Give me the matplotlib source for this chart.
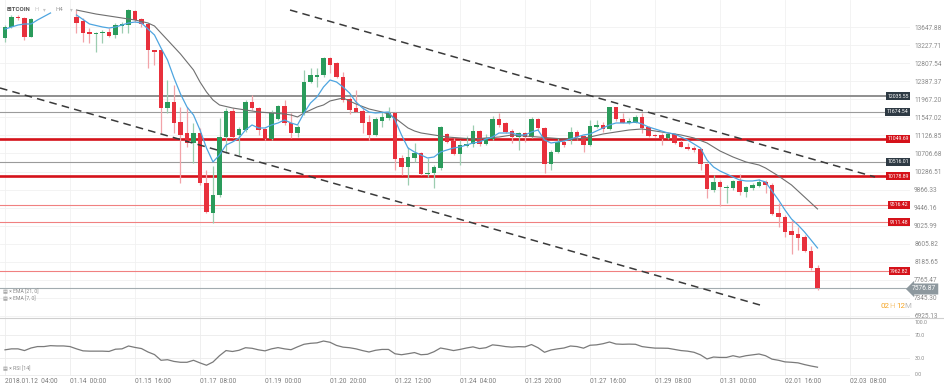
import numpy as np
import matplotlib
matplotlib.use("Agg")
import matplotlib.pyplot as plt
from matplotlib import transforms
from matplotlib.lines import Line2D

nan = float("nan")

# ---------------- data (H4 bars, index 0 = 2018.01.12 04:00) ----------------
opens = [13392, 13648, 13881, 13857, 13415, nan, nan, nan, nan, nan, nan,
         13881, 13788, 13532, 13485, 13508, 13532, 13462, 13671, 13694, 14020,
         13834, 13718, 13113, 13113, 11764, 11903, 11438, 11182, 10950, 11182,
         10019, 9322, 9740, 11089, 11694, 11136, 11252, 11903, 11764, 11275,
         11043, 11508, 11810, 11415, 11182, 11648, 12369, 12485, 12531, 12927,
         12811, 12485, 11973, 11764, 11694, 11438, 11136, 11462, 11531, 11648,
         10601, 10392, 10601, 10717, 10229, 10252, 10368, 11159, 10996, 10694,
         10880, 10927, 11229, 10927, 11043, 11508, 11415, 11229, 11089, 11182,
         11089, 11508, 11299, 10461, 10740, 10973, 11020, 11206, 11113, 10903,
         11322, 11368, 11275, 11787, 11508, 11415, 11415, 11555, 11322, 11136,
         11136, 11066, 11159, 10973, 10857, 10834, 10810, 10461, 9857, 10043,
         9903, 9903, 10066, 9810, 9903, 9950, 10043, 9973, 9322, 9229,
         8903, 8833, 8763, 8438, 8042]
highs = [13694, 13927, 13927, 13881, 13857, nan, nan, nan, nan, nan, nan,
         14043, 13857, 13625, 13532, 13578, 13625, 13741, 13764, 14067, 14043,
         13857, 13741, 13113, 13136, 12415, 12299, 11787, 11787, 11415, 11299,
         10322, 10415, 11531, 11764, 11764, 11322, 11950, 12066, 11787, 11299,
         11717, 11833, 11950, 11648, 11368, 12648, 12694, 12694, 12950, 12950,
         12834, 12601, 12020, 12183, 11787, 11601, 11555, 11671, 11787, 11671,
         10671, 10857, 10950, 10740, 10601, 10438, 11345, 11182, 11066, 11020,
         11113, 11368, 11252, 11159, 11578, 11648, 11438, 11275, 11206, 11206,
         11555, 11531, 11322, 10787, 11066, 11020, 11322, 11252, 11136, 11485,
         11485, 11438, 11787, 11787, 11648, 11531, 11601, 11648, 11345, 11159,
         11182, 11182, 11182, 11020, 10950, 10880, 10834, 10485, 10205, 10089,
         9973, 10089, 10229, 9950, 10019, 10112, 10089, 10019, 9554, 9275,
         9159, 8996, 8810, 8554, 8112]
lows = [13299, 13625, 13811, 13346, 13415, nan, nan, nan, nan, nan, nan,
        13508, 13299, 13276, 13066, 13276, 13415, 13392, 13508, 13508, 13764,
        13648, 12694, 12764, 11182, 11648, 11182, 10019, 10857, 10485, 9973,
        9322, 9089, 9694, 10717, 11066, 10671, 11206, 11717, 11136, 11020,
        11020, 11485, 11368, 11066, 11089, 11601, 12345, 12252, 12485, 12578,
        12462, 11903, 11624, 11671, 11182, 11020, 11113, 11322, 11485, 10322,
        10205, 9973, 10508, 10205, 10159, 9903, 10322, 10950, 10671, 10438,
        10857, 10857, 10880, 10903, 11020, 11322, 11182, 10950, 10787, 10973,
        11066, 11252, 10252, 10322, 10717, 10857, 10927, 11020, 10740, 10880,
        11299, 11206, 11252, 11462, 11415, 11392, 11415, 11182, 11089, 11089,
        10903, 11043, 10927, 10857, 10787, 10740, 10322, 9671, 9810, 9484,
        9554, 9857, 9740, 9694, 9857, 9926, 9787, 9275, 8996, 8763,
        8368, 8461, 8415, 7996, 7531]
closes = [13648, 13881, 13857, 13415, 13834, nan, nan, nan, nan, nan, nan,
          13741, 13508, 13485, 13508, 13532, 13439, 13694, 13718, 14043, 13811,
          13718, 13113, 13066, 11764, 11903, 11415, 11136, 10950, 11182, 10019,
          9345, 9740, 11089, 11694, 11089, 11275, 11903, 11764, 11252, 11043,
          11648, 11810, 11415, 11182, 11322, 12369, 12531, 12531, 12927, 12764,
          12485, 11950, 11717, 11671, 11415, 11136, 11508, 11555, 11648, 10578,
          10392, 10624, 10717, 10229, 10252, 10392, 11322, 10973, 10694, 10903,
          10927, 11229, 10927, 11043, 11508, 11368, 11206, 11089, 11182, 11089,
          11508, 11299, 10461, 10740, 10973, 10903, 11206, 11089, 10903, 11345,
          11368, 11275, 11787, 11508, 11415, 11462, 11555, 11299, 11113, 11113,
          11043, 11159, 10950, 10857, 10810, 10787, 10461, 9880, 10043, 9926,
          9926, 10066, 9810, 9926, 9973, 10043, 9973, 9298, 9229, 8880,
          8810, 8740, 8438, 8042, 7576.87]

ema7_bars = [0, 2, 3, 4, 5, 7, 8, 11, 13, 15, 16, 17, 19, 20, 21, 23, 24, 25, 26, 27,
             28, 29, 30, 31, 32, 33, 34, 35, 36, 37, 38, 39, 40, 41, 42, 43, 44, 45,
             46, 47, 48, 49, 50, 51, 52, 53, 54, 55, 56, 57, 59, 60, 61, 62, 63, 64,
             65, 66, 67, 68, 69, 70, 71, 72, 73, 74, 75, 76, 77, 78, 79, 80, 81, 82,
             83, 84, 85, 86, 87, 88, 89, 90, 91, 92, 93, 94, 95, 96, 97, 98, 99, 100,
             101, 102, 103, 104, 105, 106, 107, 108, 109, 110, 111, 112, 113, 114,
             115, 116, 117, 118, 119, 120, 121, 122, 123, 124, 125]
ema7_vals = [13601, 13694, 13718, 13718, 13811, 13974, nan, 13927, 13718, 13648, 13625,
             13648, 13741, 13764, 13741, 13462, 13159, 12880, 12462, 12090, 11787,
             11601, 11252, 10834, 10508, 10671, 10903, 10973, 11066, 11252, 11369,
             11299, 11299, 11369, 11415, 11485, 11415, 11369, 11648, 11880, 12020,
             12252, 12415, 12369, 12252, 12113, 11903, 11764, 11671, 11648, 11671,
             11485, 11136, 10833, 10740, 10671, 10601, 10624, 10740, 10787, 10833,
             10857, 10903, 10950, 10973, 11043, 11089, 11182, 11182, 11182, 11136,
             11136, 11206, 11252, 11019, 10950, 10973, 10996, 11043, 11089, 11136,
             11159, 11229, 11299, 11369, 11415, 11415, 11415, 11438, 11392, 11322,
             11276, 11229, 11182, 11159, 11089, 11019, 10926, 10833, 10554, 10392,
             10298, 10229, 10159, 10089, 10066, 10066, 10089, 10043, 9833, 9624,
             9391, 9182, 9042, 8880, 8694, 8508]

ema21_bars = [11, 14, 17, 20, 22, 23, 24, 25, 26, 27, 28, 29, 30, 31, 32, 33, 35, 37,
              39, 41, 43, 44, 45, 46, 47, 48, 49, 50, 52, 54, 56, 58, 59, 60, 61, 62,
              63, 64, 66, 68, 70, 72, 74, 76, 78, 80, 82, 84, 86, 88, 90, 92, 94, 96,
              98, 100, 102, 104, 106, 108, 110, 112, 114, 116, 117, 119, 121, 123, 125]
ema21_vals = [14043, 13950, 13881, 13811, 13741, 13671, 13508, 13346, 13183, 13020,
              12834, 12648, 12369, 12136, 11950, 11834, 11764, 11717, 11671, 11648,
              11624, 11601, 11555, 11648, 11717, 11787, 11834, 11927, 11997, 11857,
              11741, 11671, 11624, 11531, 11415, 11299, 11229, 11183, 11136, 11089,
              11066, 11043, 11066, 11089, 11136, 11112, 11089, 11066, 11043, 11043,
              11089, 11159, 11206, 11252, 11276, 11229, 11182, 11136, 11066, 10950,
              10764, 10624, 10508, 10438, 10368, 10182, 9973, 9694, 9415]

rsi_vals = [44.3, 46, 46, 43, 47.5, 50, 50, 51.6, 51.1, 51.1, 50, 46, 42.5, 42, 42, 42,
            41.5, 45.4, 46, 51, 48.5, 46.5, 40.5, 36, 26, 27, 24, 22.5, 22.5, 26, 21.4,
            17.3, 23, 34, 43, 41.4, 43.5, 48, 47, 44.3, 42.5, 46, 48.2, 46, 44.5, 49.5,
            54, 55.7, 56.5, 59.7, 57.5, 52, 49, 48, 46, 43, 40.5, 43.5, 45, 45, 37.4,
            35.7, 37.5, 39.5, 35.7, 36.5, 41, 47.5, 45.4, 43, 45, 47.5, 49.5, 46.5, 48,
            53, 51.8, 50, 49, 49.9, 49.5, 53.5, 48, 40, 44, 46, 47.5, 51, 50, 47.2,
            52.3, 53, 55, 58, 54.5, 54, 54.3, 54, 50, 48.5, 47.3, 47.2, 47, 45, 43, 42,
            40, 35.5, 28.3, 31.7, 31, 31, 34, 31.5, 34, 35.5, 37, 34, 28, 26, 23.2,
            22.5, 21.5, 18.5, 16, 13.9]

date_labels = ["2018.01.12  04:00", "01.14  00:00", "01.15  16:00", "01.17  08:00",
               "01.19  00:00", "01.20  20:00", "01.22  12:00", "01.24  04:00",
               "01.25  20:00", "01.27  16:00", "01.29  08:00", "01.31  00:00",
               "02.01  16:00", "02.03  08:00"]
price_ticks = [6925.13, 7345.30, 7765.47, 8185.65, 8605.82, 9025.99, 9446.16, 9866.33,
               10286.51, 10706.68, 11126.85, 11547.02, 11967.20, 12387.37, 12807.54,
               13227.71, 13647.88]
rsi_ticks = [0, 30, 70, 100]
level_values = [12035.55, 11674.54, 11049.69, 10516.01, 10178.89, 9516.42, 9111.48, 7962.82]
level_kinds = ["gray_thick", "gray", "red_thick", "gray", "red_thick", "red", "red", "red"]
current_price = 7576.87

upper_channel_x = [43.85, 133.85]
upper_channel_y = [14043, 10159]
lower_channel_x = [-0.77, 116.15]
lower_channel_y = [12229, 7181]

# ---------------- figure ----------------
W, H = 945, 389
plt.rcParams["font.family"] = ["Roboto", "DejaVu Sans"]
fig = plt.figure(figsize=(W / 100, H / 100), dpi=100)
fig.patch.set_facecolor("white")


def px_rect(x0, y0, x1, y1):
    return [x0 / W, 1 - y1 / H, (x1 - x0) / W, (y1 - y0) / H]


def fx(x):
    return x / W


def fy(y):
    return 1 - y / H


ax = fig.add_axes(px_rect(0, 0, 910, 318))
axr = fig.add_axes(px_rect(0, 318, 910, 376), sharex=ax)

GREEN, GREEN_W = "#2a9b5b", "#9ccdb0"
RED, RED_W = "#e8303c", "#f2a3a8"

o = np.array(opens, float)
h = np.array(highs, float)
l = np.array(lows, float)
c = np.array(closes, float)
x = np.arange(len(o))
valid = ~np.isnan(o)
up = valid & (c >= o)
dn = valid & (c < o)

ax.vlines(x[up], l[up], h[up], color=GREEN_W, lw=0.9, zorder=3)
ax.vlines(x[dn], l[dn], h[dn], color=RED_W, lw=0.9, zorder=3)
bb = np.minimum(o, c)
bh = np.maximum(np.abs(c - o), 25)
ax.bar(x[up], bh[up], bottom=bb[up], width=0.62, color=GREEN, lw=0, zorder=4)
ax.bar(x[dn], bh[dn], bottom=bb[dn], width=0.62, color=RED, lw=0, zorder=4)

ax.plot(ema21_bars, ema21_vals, color="#6f6f6f", lw=0.8, zorder=5)
ax.plot(ema7_bars, ema7_vals, color="#4ea5e0", lw=0.9, zorder=5)

# levels
trans = transforms.blended_transform_factory(ax.transAxes, ax.transData)
style = {"gray_thick": ("#8e8e8e", 1.4, "#2e3a44"),
         "gray": ("#9b9b9b", 0.8, "#2e3a44"),
         "red_thick": ("#d5121a", 1.9, "#d5121a"),
         "red": ("#f08080", 0.8, "#d5121a")}
for v, k in zip(level_values, level_kinds):
    col, lw, box = style[k]
    ax.axhline(v, color=col, lw=lw, zorder=2)
    ax.text(0.9985, v, f"{v:.2f}", transform=trans, ha="right", va="center",
            fontsize=3.7, color="white", zorder=7,
            bbox=dict(boxstyle="square,pad=0.3", fc=box, ec="none"))
ax.axhline(current_price, color="#a3acb0", lw=0.8, zorder=2)

ax.plot(upper_channel_x, upper_channel_y, color="#3a3a3a", lw=1.1, ls=(0, (5, 3.4)), zorder=6)
ax.plot(lower_channel_x, lower_channel_y, color="#3a3a3a", lw=1.1, ls=(0, (5, 3.4)), zorder=6)

ax.set_xlim(-0.769, 139.23)
ax.set_ylim(6878.6, 14276.0)
ax.yaxis.tick_right()
ax.set_yticks(price_ticks)
ax.set_yticklabels([f"{v:.2f}" for v in price_ticks], fontsize=4.7, color="#8a8a8a")
ax.tick_params(axis="y", length=0, pad=3)
ax.tick_params(axis="x", bottom=False, labelbottom=False, length=0)
ax.grid(True, color="#f1f1f1", lw=0.6)
ax.set_axisbelow(True)
for s in ax.spines.values():
    s.set_visible(False)

# RSI
axr.plot(x, rsi_vals, color="#7a7a7a", lw=0.9)
axr.set_ylim(-1.5, 100)
axr.set_yticks([])
trans_r = transforms.blended_transform_factory(axr.transAxes, axr.transData)
rsi_offsets = {0: 0.8, 30: 0, 70: 0, 100: -3.2}
for v in rsi_ticks:
    axr.annotate(f"{v:.1f}", xy=(1, v), xycoords=trans_r,
                 xytext=(3.6, rsi_offsets[v]), textcoords="offset points",
                 fontsize=3.8, color="#8a8a8a", ha="left", va="center",
                 annotation_clip=False)
axr.set_xticks(range(0, 131, 10))
axr.set_xticklabels(date_labels, ha="left", fontsize=4.7, color="#7a7a7a")
axr.tick_params(axis="x", length=0, pad=1.5)
axr.grid(True, axis="x", color="#ececec", lw=0.6)
for v in [30, 70, 0]:
    axr.axhline(v, color="#ebebeb", lw=0.6, zorder=0)
for s in axr.spines.values():
    s.set_visible(False)

# separator between panels
fig.add_artist(Line2D([0, 1], [fy(318.3)] * 2, color="#cfcfcf", lw=0.8))

# current price tag
fig.text(fx(912), fy(289), f"{current_price:.2f}", fontsize=4.8, color="white",
         ha="left", va="center",
         bbox=dict(boxstyle="larrow,pad=0.3", fc="#8d989e", ec="none"))

# countdown
fig.text(fx(881), fy(305.5), "02", fontsize=5.8, color="#f5a524", ha="left", va="center")
fig.text(fx(889.5), fy(305.5), "H", fontsize=5.8, color="#f7cd8c", ha="left", va="center")
fig.text(fx(896), fy(305.5), "12", fontsize=5.8, color="#f5a524", ha="left", va="center")
fig.text(fx(904.5), fy(305.5), "M", fontsize=5.8, color="#bdbdbd", ha="left", va="center")

# title
fig.text(fx(7), fy(9.5), "BITCOIN", fontsize=4.4, fontweight="bold", color="#555555",
         ha="left", va="center")
fig.text(fx(35), fy(9.5), "H", fontsize=4.2, color="#c4c4c4", ha="left", va="center")
fig.text(fx(43), fy(9.5), "▾", fontsize=4.0, color="#c4c4c4", ha="left", va="center")
fig.text(fx(56), fy(9.5), "H4", fontsize=4.4, color="#9a9a9a", ha="left", va="center")
fig.text(fx(70), fy(9.5), "▾", fontsize=4.0, color="#c4c4c4", ha="left", va="center")

# indicator legends
fig.text(fx(3), fy(292), "▤ × EMA [21, 0]", fontsize=3.7, color="#8a8a8a", ha="left", va="center")
fig.text(fx(3), fy(299), "▤ × EMA [7, 0]", fontsize=3.7, color="#8a8a8a", ha="left", va="center")
fig.text(fx(3), fy(369), "▤ × RSI [14]", fontsize=3.7, color="#8a8a8a", ha="left", va="center")

fig.savefig("out.png", dpi=100, facecolor="white")
